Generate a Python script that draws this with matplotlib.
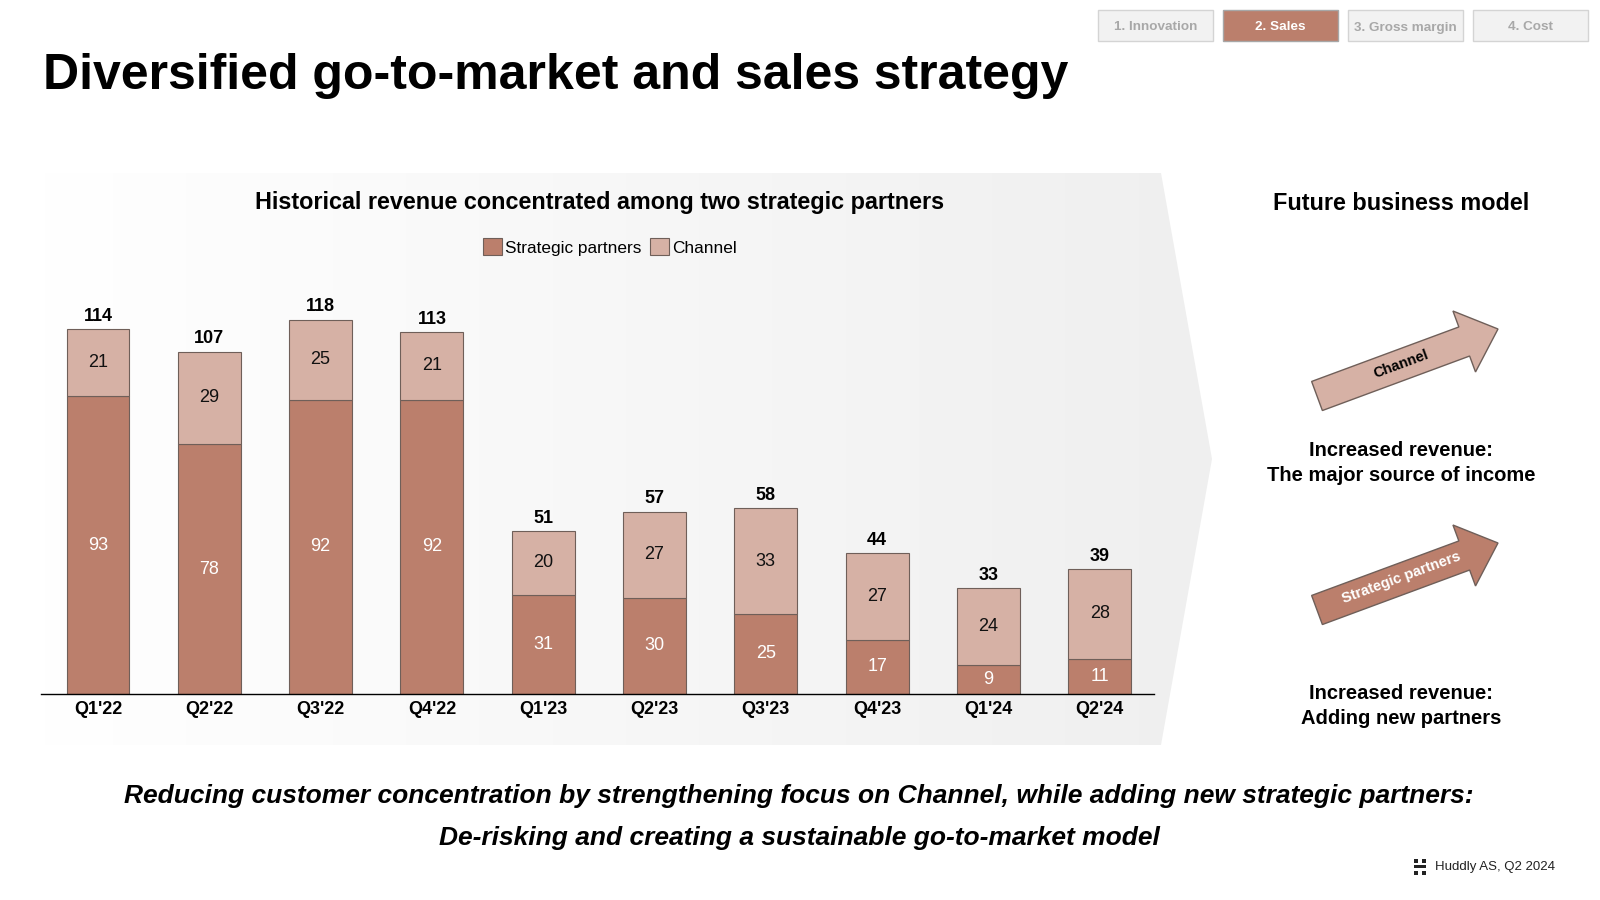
import matplotlib
matplotlib.use('Agg')
from matplotlib import pyplot as plt
from matplotlib.patches import Polygon, Rectangle, FancyArrow, Patch
from matplotlib.colors import LinearSegmentedColormap
import numpy as np

plt.rcParams['font.family'] = ['Liberation Sans', 'DejaVu Sans']

# Data
quarters = ["Q1'22", "Q2'22", "Q3'22", "Q4'22", "Q1'23", "Q2'23", "Q3'23", "Q4'23", "Q1'24", "Q2'24"]
strategic = [93, 78, 92, 92, 31, 30, 25, 17, 9, 11]
channel = [21, 29, 25, 21, 20, 27, 33, 27, 24, 28]
totals = [114, 107, 118, 113, 51, 57, 58, 44, 33, 39]
tabs = ['1. Innovation', '2. Sales', '3. Gross margin', '4. Cost']
active_tab = 1

C_STRAT = '#bb7f6c'
C_CHAN = '#d6b1a5'
C_EDGE = '#6f5f59'

fig = plt.figure(figsize=(16, 9), dpi=100)

# Background / decoration layer in pixel coordinates
bg = fig.add_axes([0, 0, 1, 1], zorder=0)
bg.set_xlim(0, 1600)
bg.set_ylim(900, 0)
bg.axis('off')

panel = Polygon([(40, 173), (1161, 173), (1212, 459), (1161, 745), (40, 745)],
                closed=True, facecolor='none', edgecolor='none')
bg.add_patch(panel)
cmap = LinearSegmentedColormap.from_list('grad', ['#ffffff', '#efefef'])
img = bg.imshow(np.linspace(0, 1, 256).reshape(1, -1), cmap=cmap, aspect='auto',
                extent=(40, 1212, 745, 173), zorder=0)
img.set_clip_path(panel)
bg.set_xlim(0, 1600)
bg.set_ylim(900, 0)

# Title
bg.text(43, 76, 'Diversified go-to-market and sales strategy', fontsize=36,
        fontweight='bold', va='center', ha='left')

# Navigation tabs
tab_x = [1098, 1223, 1348, 1473]
for i, (x, label) in enumerate(zip(tab_x, tabs)):
    active = i == active_tab
    bg.add_patch(Rectangle((x, 10), 115, 31, facecolor=C_STRAT if active else '#f2f2f2',
                           edgecolor='#a7a7a7' if active else '#d4d4d4', lw=1))
    bg.text(x + 57.5, 27.5, label, fontsize=9.7, fontweight='bold', ha='center', va='center',
            color='white' if active else '#a8a8a8')

# Section headings
bg.text(600, 203, 'Historical revenue concentrated among two strategic partners',
        fontsize=16.8, fontweight='bold', ha='center', va='center')
bg.text(1401, 203, 'Future business model', fontsize=16.8, fontweight='bold',
        ha='center', va='center')

# Future model arrows
for dy, color, label, tcolor in [(0, C_CHAN, 'Channel', 'black'),
                                 (214, C_STRAT, 'Strategic partners', 'white')]:
    x0, y0 = 1317, 396 + dy
    bg.add_patch(FancyArrow(x0, y0, 181, -67, width=31, head_width=65, head_length=36,
                            length_includes_head=True, facecolor=color,
                            edgecolor=C_EDGE, lw=1))
    bg.text(1401, 364 + dy, label, fontsize=10.5, fontweight='bold', color=tcolor,
            rotation=20.3, rotation_mode='anchor', ha='center', va='center')

bg.text(1401, 463, 'Increased revenue:\nThe major source of income', fontsize=14.5,
        fontweight='bold', ha='center', va='center', linespacing=1.45)
bg.text(1401, 706, 'Increased revenue:\nAdding new partners', fontsize=14.5,
        fontweight='bold', ha='center', va='center', linespacing=1.45)

# Bottom message
bg.text(799, 796, 'Reducing customer concentration by strengthening focus on Channel, '
        'while adding new strategic partners:', fontsize=19, fontweight='bold',
        fontstyle='italic', ha='center', va='center')
bg.text(799, 838, 'De-risking and creating a sustainable go-to-market model', fontsize=19,
        fontweight='bold', fontstyle='italic', ha='center', va='center')

# Footer with small logo
for rx, ry, rw, rh in [(1414, 859, 4, 4), (1422, 859, 4, 4), (1414, 865, 12, 2.5),
                       (1414, 871, 4, 4), (1422, 871, 4, 4)]:
    bg.add_patch(Rectangle((rx, ry), rw, rh, facecolor='#222222', edgecolor='none'))
bg.text(1435, 867, 'Huddly AS, Q2 2024', fontsize=9.5, ha='left', va='center', color='#222222')

# Bar chart
ax = fig.add_axes([41 / 1600, 1 - 694 / 900, (1154 - 41) / 1600, 400 / 900], zorder=1)
ax.set_facecolor('none')
x = np.arange(len(quarters))
w = 0.565
b1 = ax.bar(x, strategic, w, color=C_STRAT, edgecolor=C_EDGE, lw=0.8, label='Strategic partners')
b2 = ax.bar(x, channel, w, bottom=strategic, color=C_CHAN, edgecolor=C_EDGE, lw=0.8,
            label='Channel')
ax.bar_label(b1, labels=[str(v) for v in strategic], label_type='center', color='white',
             fontsize=13)
ax.bar_label(b2, labels=[str(v) for v in channel], label_type='center', color='#111111',
             fontsize=13)
for xi, s, c, t in zip(x, strategic, channel, totals):
    ax.annotate(str(t), (xi, s + c), xytext=(0, 3), textcoords='offset points',
                ha='center', va='bottom', fontsize=13, fontweight='bold')

ax.set_xlim(-0.512, 9.488)
ax.set_ylim(0, 125)
ax.set_xticks(x)
ax.set_xticklabels(quarters, fontsize=13, fontweight='bold')
ax.tick_params(axis='x', length=0, pad=5)
ax.set_yticks([])
for side in ['top', 'right', 'left']:
    ax.spines[side].set_visible(False)
ax.spines['bottom'].set_color('black')
ax.spines['bottom'].set_linewidth(1)

handles = [Patch(facecolor=C_STRAT, edgecolor=C_EDGE, lw=0.8),
           Patch(facecolor=C_CHAN, edgecolor=C_EDGE, lw=0.8)]
fig.legend(handles, ['Strategic partners', 'Channel'], loc='center',
           bbox_to_anchor=(610 / 1600, 1 - 247 / 900), ncol=2, frameon=False, fontsize=12.4,
           handlelength=1.1, handleheight=1.1, handletextpad=0.2, columnspacing=0.5)

fig.savefig('out.png', dpi=100)
